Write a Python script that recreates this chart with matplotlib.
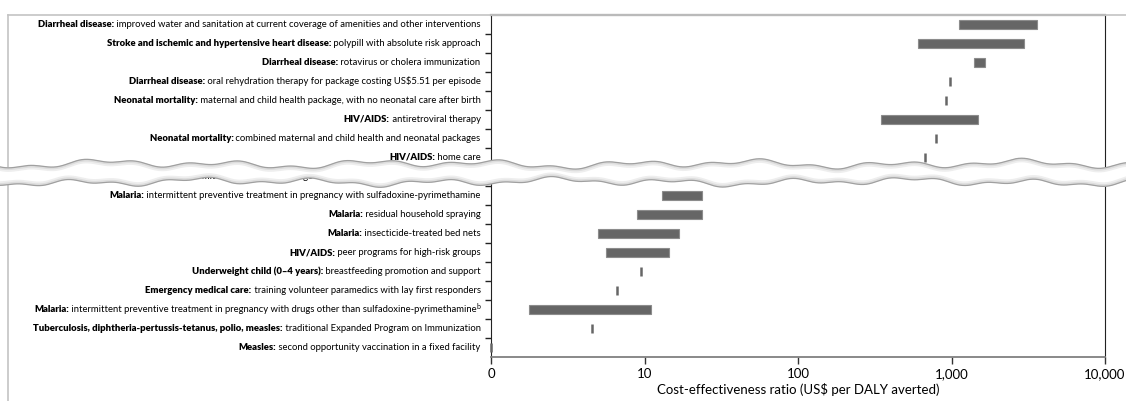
import matplotlib
matplotlib.use('Agg')
import matplotlib.pyplot as plt
import numpy as np
from matplotlib.patches import Polygon
from matplotlib.lines import Line2D
from matplotlib.ticker import FixedLocator, FixedFormatter, NullFormatter, NullLocator

plt.rcParams['font.family'] = ['Lato', 'DejaVu Sans']

# row labels: bold part + plain part
bold_parts = [
    "Diarrheal disease:",
    "Stroke and ischemic and hypertensive heart disease:",
    "Diarrheal disease:",
    "Diarrheal disease:",
    "Neonatal mortality:",
    "HIV/AIDS:",
    "Neonatal mortality:",
    "HIV/AIDS:",
    "Malaria:",
    "Malaria:",
    "Malaria:",
    "Malaria:",
    "HIV/AIDS:",
    "Underweight child (0\u20134 years):",
    "Emergency medical care:",
    "Malaria:",
    "Tuberculosis, diphtheria-pertussis-tetanus, polio, measles:",
    "Measles:",
]
plain_parts = [
    " improved water and sanitation at current coverage of amenities and other interventions",
    " polypill with absolute risk approach",
    " rotavirus or cholera immunization",
    r" oral rehydration therapy for package costing US\$5.51 per episode",
    " maternal and child health package, with no neonatal care after birth",
    " antiretroviral therapy",
    " combined maternal and child health and neonatal packages",
    " home care",
    " intermittent treatment package for Children with antimalarial medicines",
    " intermittent preventive treatment in pregnancy with sulfadoxine-pyrimethamine",
    " residual household spraying",
    " insecticide-treated bed nets",
    " peer programs for high-risk groups",
    " breastfeeding promotion and support",
    " training volunteer paramedics with lay first responders",
    " intermittent preventive treatment in pregnancy with drugs other than sulfadoxine-pyrimethamine",
    " traditional Expanded Program on Immunization",
    " second opportunity vaccination in a fixed facility",
]
superscripts = ["", "", "", "", "", "", "", "", "", "", "", "", "", "", "", "b", "", ""]

# cost-effectiveness ranges (axis position 1 is labelled "0")
low = [1120, 605, 1400, 985, 925, 349, 789, 674, np.nan,
       13.0, 8.9, 5.0, 5.6, 9.5, 6.65, 1.78, 4.57, 1.0]
high = [3600, 2960, 1660, 985, 925, 1496, 789, 674, np.nan,
        23.8, 23.8, 16.9, 14.4, 9.5, 6.65, 11.1, 4.57, 1.0]

xticks = [1, 10, 100, 1000, 10000]
xticklabels = ["0", "10", "100", "1,000", "10,000"]

W, H = 1126, 401
fig = plt.figure(figsize=(W / 100, H / 100), dpi=100)
ax = fig.add_axes([491 / W, 44 / H, 614 / W, 342 / H])

bar_col = '#666666'
n = len(low)
for i in range(n):
    lo, hi = low[i], high[i]
    if np.isnan(lo):
        continue
    if hi > lo * 1.02:
        ax.barh(i, hi - lo, left=lo, height=0.44, color=bar_col,
                edgecolor='#8c8c8c', linewidth=0.8, zorder=3)
    else:
        ax.vlines(lo, i - 0.22, i + 0.22, color=bar_col, linewidth=1.8,
                  zorder=3, clip_on=False)

ax.set_xscale('log')
ax.set_xlim(1, 10000)
ax.set_ylim(n - 0.5, -0.5)
ax.xaxis.set_major_locator(FixedLocator(xticks))
ax.xaxis.set_major_formatter(FixedFormatter(xticklabels))
ax.xaxis.set_minor_locator(NullLocator())
ax.tick_params(axis='x', which='major', length=5, width=1, color='#333333',
               labelsize=9.5, pad=3)
ax.yaxis.set_major_locator(NullLocator())
ax.yaxis.set_minor_locator(FixedLocator(np.arange(0.5, n - 1, 1.0)))
ax.yaxis.set_minor_formatter(NullFormatter())
ax.tick_params(axis='y', which='minor', length=4, width=1, color='#222222')
ax.set_xlabel("Cost-effectiveness ratio (US\\$ per DALY averted)", fontsize=9.5,
              labelpad=2)

ax.spines['left'].set_color('#222222')
ax.spines['right'].set_color('#222222')
ax.spines['bottom'].set_color('#808080')
ax.spines['bottom'].set_linewidth(1.3)
ax.spines['top'].set_color('#8c8c8c')
ax.spines['top'].set_linewidth(1.6)

# labels, bold prefix + plain text, right aligned left of the axis
fig.canvas.draw()
renderer = fig.canvas.get_renderer()
fs = 6.8
for i in range(n):
    off = -7.5
    if superscripts[i]:
        t = ax.annotate(superscripts[i], xy=(0, i), xycoords=('axes fraction', 'data'),
                        xytext=(off, 2.5), textcoords='offset points',
                        ha='right', va='center', fontsize=5)
        off -= t.get_window_extent(renderer).width * 72 / fig.dpi
    t = ax.annotate(plain_parts[i], xy=(0, i), xycoords=('axes fraction', 'data'),
                    xytext=(off, 0), textcoords='offset points',
                    ha='right', va='center', fontsize=fs)
    off -= t.get_window_extent(renderer).width * 72 / fig.dpi
    ax.annotate(bold_parts[i], xy=(0, i), xycoords=('axes fraction', 'data'),
                xytext=(off, 0), textcoords='offset points',
                ha='right', va='center', fontsize=fs, fontweight='heavy')

# page frame lines
fig.add_artist(Line2D([8 / W, 1], [1 - 15 / H, 1 - 15 / H], transform=fig.transFigure,
                      color='#c4c4c4', linewidth=1.2, zorder=1))
fig.add_artist(Line2D([8 / W, 8 / W], [0, 1 - 15 / H], transform=fig.transFigure,
                      color='#c4c4c4', linewidth=1.2, zorder=1))

# torn-paper break
xs = np.linspace(0, W, 400)
y_top = 164 + 2.5 * np.sin(xs / 21.0) + 1.8 * np.sin(xs / 8.3 + 1.0) + 1.5 * np.sin(xs / 47.0 + 2.0)
y_bot = 182 + 2.5 * np.sin(xs / 19.0 + 0.7) + 1.6 * np.sin(xs / 7.7 + 2.3) + 1.4 * np.sin(xs / 53.0 + 0.4)
px = np.concatenate([xs, xs[::-1]]) / W
py = 1 - np.concatenate([y_top, y_bot[::-1]]) / H
fig.add_artist(Polygon(np.column_stack([px, py]), closed=True, transform=fig.transFigure,
                       facecolor='white', edgecolor='none', zorder=20))
for yy, sgn in [(y_top, 1), (y_bot, -1)]:
    for k, (c, lw) in enumerate([('#eeeeee', 3.0), ('#dddddd', 1.8)]):
        fig.add_artist(Line2D(xs / W, 1 - (yy + sgn * (2 - k)) / H, transform=fig.transFigure,
                              color=c, linewidth=lw, zorder=21))
    fig.add_artist(Line2D(xs / W, 1 - yy / H, transform=fig.transFigure,
                          color='#a0a0a0', linewidth=0.9, zorder=22))

fig.savefig('out.png', dpi=100)
